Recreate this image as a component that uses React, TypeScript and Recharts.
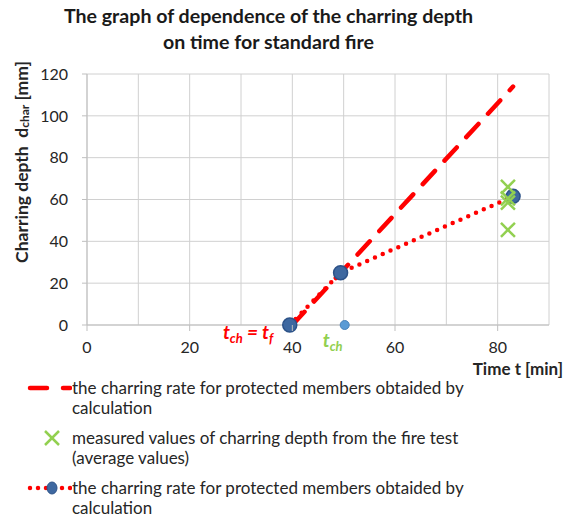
// Charring depth vs time chart (standard fire)
import React from 'react';
import {
  ComposedChart,
  Line,
  Scatter,
  XAxis,
  YAxis,
  CartesianGrid,
  Legend,
  ReferenceDot,
} from 'recharts';

const FONT = 'Lato, "Open Sans", sans-serif';

const COLORS = {
  red: '#ff0000',
  green: '#92d050',
  marker: '#3e68a0',
  markerEdge: '#2c5288',
  lightDot: '#5b9bd5',
  lightDotEdge: '#4a83bb',
  grid: '#d0d0d0',
  axis: '#bfbfbf',
  text: '#262626',
};

const X_TICKS = [0, 10, 20, 30, 40, 50, 60, 70, 80, 90];
const X_LABELED = [0, 20, 40, 60, 80];
const Y_TICKS = [0, 20, 40, 60, 80, 100, 120];

// calculated charring (dashed)
const calcDashed = [
  { t: 40, d: 0 },
  { t: 83, d: 114 },
];

// calculated charring for protected members (dotted with markers)
const calcDotted = [
  { t: 39.5, d: 0 },
  { t: 49.4, d: 25 },
  { t: 83, d: 61.5 },
];

// fire test measurements (average values)
const measured = [
  { t: 82, d: 66 },
  { t: 82, d: 60.5 },
  { t: 82, d: 58.5 },
  { t: 82, d: 45.5 },
];

// start of charring t_ch
const tchPoint = [{ t: 50.2, d: 0 }];

const CrossShape = (props: any) => {
  const { cx, cy } = props;
  const s = 7;
  return (
    <g stroke={COLORS.green} strokeWidth={2.5}>
      <line x1={cx - s} y1={cy - s} x2={cx + s} y2={cy + s} />
      <line x1={cx - s} y1={cy + s} x2={cx + s} y2={cy - s} />
    </g>
  );
};

const LightDot = (props: any) => {
  const { cx, cy } = props;
  return <circle cx={cx} cy={cy} r={4.5} fill={COLORS.lightDot} stroke={COLORS.lightDotEdge} strokeWidth={1} />;
};

const BlueDot = (props: any) => {
  const { cx, cy, index, size = 7 } = props;
  return (
    <circle key={`bd-${index}`} cx={cx} cy={cy} r={size} fill={COLORS.marker} stroke={COLORS.markerEdge} strokeWidth={1.5} />
  );
};

const XTick = (props: any) => {
  const { x, y, payload } = props;
  if (!X_LABELED.includes(payload.value)) return null;
  return (
    <g>
      <line x1={x} x2={x} y1={y - 6} y2={y} stroke={COLORS.axis} />
      <text x={x} y={y + 22} textAnchor="middle" fill={COLORS.text} fontSize={16} fontFamily={FONT}>
        {payload.value}
      </text>
    </g>
  );
};

const YAxisTitle = (props: any) => {
  const { viewBox } = props;
  const x = viewBox.x + 21;
  const y = viewBox.y + 88;
  return (
    <text
      x={x}
      y={y}
      transform={`rotate(-90, ${x}, ${y})`}
      textAnchor="middle"
      dominantBaseline="central"
      fontFamily={FONT}
      fontWeight="bold"
      fontSize={17.5}
      fill={COLORS.text}
    >
      {'Charring depth \u00a0d'}<tspan fontSize={12} dy={3}>char</tspan>
      <tspan dy={-3}>{' [mm]'}</tspan>
    </text>
  );
};

const XAxisTitle = (props: any) => {
  const { viewBox } = props;
  return (
    <text
      x={viewBox.x + viewBox.width + 14}
      y={viewBox.y + 50}
      textAnchor="end"
      fontFamily={FONT}
      fontWeight="bold"
      fontSize={17}
      fill={COLORS.text}
    >
      Time t [min]
    </text>
  );
};

const TfLabel = (props: any) => {
  const { viewBox } = props;
  return (
    <text
      x={viewBox.x - 19}
      y={viewBox.y + 14}
      textAnchor="end"
      fontFamily={FONT}
      fontWeight="bold"
      fontStyle="italic"
      fontSize={19}
      fill={COLORS.red}
    >
      t<tspan fontSize={13} dy={4}>ch</tspan>
      <tspan dy={-4}> = t</tspan>
      <tspan fontSize={13} dy={4}>f</tspan>
    </text>
  );
};

const TchLabel = (props: any) => {
  const { viewBox } = props;
  return (
    <text
      x={viewBox.x - 12}
      y={viewBox.y + 22}
      textAnchor="middle"
      fontFamily={FONT}
      fontWeight="bold"
      fontStyle="italic"
      fontSize={19}
      fill={COLORS.green}
    >
      t<tspan fontSize={13} dy={4}>ch</tspan>
    </text>
  );
};

const legendRow = { display: 'flex', alignItems: 'flex-start', marginBottom: 10 } as const;
const legendText = { fontFamily: FONT, fontSize: 17, color: COLORS.text, lineHeight: '20px', width: 405 } as const;

const renderLegend = () => (
  <div>
    <div style={legendRow}>
      <svg width={72} height={20}>
        <line x1={30} x2={70} y1={10} y2={10} stroke={COLORS.red} strokeWidth={4.5} strokeDasharray="17 16" strokeLinecap="round" />
      </svg>
      <div style={legendText}>the charring rate for protected members obtaided by calculation</div>
    </div>
    <div style={legendRow}>
      <svg width={72} height={20}>
        <CrossShape cx={52} cy={10} />
      </svg>
      <div style={legendText}>measured values of charring depth from the fire test (average values)</div>
    </div>
    <div style={{ ...legendRow, marginBottom: 0 }}>
      <svg width={72} height={20}>
        <line x1={30} x2={72} y1={10} y2={10} stroke={COLORS.red} strokeWidth={4.5} strokeDasharray="0 8" strokeLinecap="round" />
        <ellipse cx={52} cy={10} rx={5} ry={6} fill={COLORS.marker} stroke={COLORS.markerEdge} strokeWidth={1} />
      </svg>
      <div style={legendText}>the charring rate for protected members obtaided by calculation</div>
    </div>
  </div>
);

export default function App() {
  return (
    <div style={{ position: 'absolute', left: 0, top: 0, width: 565, height: 519, background: '#fff' }}>
      <div
        style={{
          position: 'absolute',
          top: 3,
          left: 0,
          width: 537,
          textAlign: 'center',
          fontFamily: FONT,
          fontWeight: 'bold',
          fontSize: 19.6,
          lineHeight: '26px',
          color: '#1a1a1a',
        }}
      >
        The graph of dependence of the charring depth
        <br />
        on time for standard fire
      </div>
      <ComposedChart width={565} height={519} margin={{ top: 74, right: 16, left: 0, bottom: 164 }}>
        <CartesianGrid stroke={COLORS.grid} />
        <XAxis
          type="number"
          dataKey="t"
          domain={[0, 90]}
          ticks={X_TICKS}
          interval={0}
          tick={<XTick />}
          tickLine={false}
          tickSize={6}
          tickMargin={0}
          height={30}
          stroke={COLORS.axis}
          label={{ content: <XAxisTitle /> }}
        />
        <YAxis
          type="number"
          dataKey="d"
          domain={[0, 120]}
          ticks={Y_TICKS}
          interval={0}
          width={87}
          tickSize={5}
          tickMargin={14}
          stroke={COLORS.axis}
          tick={{ fill: COLORS.text, fontSize: 16, fontFamily: FONT }}
          label={{ content: <YAxisTitle /> }}
        />
        <Line
          data={calcDashed}
          dataKey="d"
          type="linear"
          stroke={COLORS.red}
          strokeWidth={4.5}
          strokeDasharray="18 14"
          strokeLinecap="round"
          dot={false}
          activeDot={false}
          isAnimationActive={false}
        />
        <Line
          data={calcDotted}
          dataKey="d"
          type="linear"
          stroke={COLORS.red}
          strokeWidth={4.5}
          strokeDasharray="0 8.5"
          strokeLinecap="round"
          dot={<BlueDot />}
          activeDot={false}
          isAnimationActive={false}
        />
        <Scatter data={measured} dataKey="d" shape={<CrossShape />} zIndex={1100} isAnimationActive={false} />
        <Scatter data={tchPoint} dataKey="d" shape={<LightDot />} isAnimationActive={false} />
        <ReferenceDot x={40} y={0} r={0} stroke="none" fill="none" label={{ content: <TfLabel /> }} />
        <ReferenceDot x={50.2} y={0} r={0} stroke="none" fill="none" label={{ content: <TchLabel /> }} />
        <Legend
          layout="vertical"
          align="center"
          verticalAlign="middle"
          wrapperStyle={{ top: 378, left: 0, width: 565 }}
          content={renderLegend}
        />
      </ComposedChart>
    </div>
  );
}
